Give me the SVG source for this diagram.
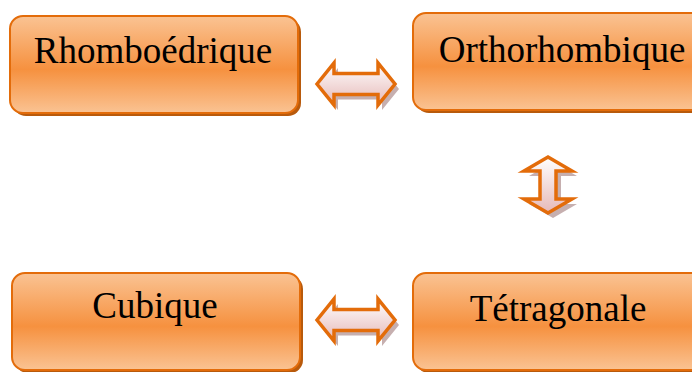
<svg xmlns="http://www.w3.org/2000/svg" width="692" height="372" viewBox="0 0 692 372">
  <defs>
    <linearGradient id="boxGrad" x1="0" y1="0" x2="0" y2="1">
      <stop offset="0" stop-color="#FAC393"/>
      <stop offset="0.55" stop-color="#F6913F"/>
      <stop offset="1" stop-color="#FAC393"/>
    </linearGradient>
    <linearGradient id="arrGradH" x1="0" y1="0" x2="0" y2="1">
      <stop offset="0" stop-color="#FFFFFF"/>
      <stop offset="1" stop-color="#E6B9B8"/>
    </linearGradient>
    <linearGradient id="arrGradV" x1="0" y1="0" x2="0" y2="1">
      <stop offset="0" stop-color="#FFFFFF"/>
      <stop offset="1" stop-color="#E6B9B8"/>
    </linearGradient>
    <path id="harrow" d="M0,0 L17,-21 L17,-10.5 L61,-10.5 L61,-21 L78,0 L61,21 L61,10.5 L17,10.5 L17,21 Z"/>
    <path id="varrow" d="M0,0 L24,14 L8,14 L8,42 L24,42 L0,56 L-24,42 L-8,42 L-8,14 L-24,14 Z"/>
  </defs>
  <style>
    .shadow { fill: #B85A0C; }
    .box { fill: url(#boxGrad); stroke: #E36C0A; stroke-width: 2; }
    .label { font-family: "Liberation Serif", "Times New Roman", serif; font-size: 37px; fill: #000000; text-anchor: middle; }
    .ashadow { fill: #A07A7A; opacity: 0.6; }
    .arrowH { fill: url(#arrGradH); stroke: #E36C0A; stroke-width: 3.5; stroke-linejoin: miter; }
    .arrowV { fill: url(#arrGradV); stroke: #E36C0A; stroke-width: 3.5; stroke-linejoin: miter; }
  </style>

  <g id="node-rhomboedrique">
    <rect class="shadow" x="13" y="19" width="288" height="97" rx="13"/>
    <rect class="box" x="10" y="16" width="288" height="97" rx="13"/>
    <text class="label" x="153" y="63">Rhomboédrique</text>
  </g>

  <g id="node-orthorhombique">
    <rect class="shadow" x="416" y="16" width="300" height="97" rx="13"/>
    <rect class="box" x="413" y="13" width="300" height="97" rx="13"/>
    <text class="label" x="562" y="62">Orthorhombique</text>
  </g>

  <g id="node-cubique">
    <rect class="shadow" x="15" y="276" width="288" height="97" rx="13"/>
    <rect class="box" x="12" y="273" width="288" height="97" rx="13"/>
    <text class="label" x="155" y="318">Cubique</text>
  </g>

  <g id="node-tetragonale">
    <rect class="shadow" x="416" y="276" width="300" height="97" rx="13"/>
    <rect class="box" x="413" y="273" width="300" height="97" rx="13"/>
    <text class="label" x="558" y="321">Tétragonale</text>
  </g>

  <g id="connectors">
    <g transform="translate(317,84)">
      <use href="#harrow" class="ashadow" transform="translate(4,5)"/>
      <use href="#harrow" class="arrowH"/>
    </g>
    <g transform="translate(548,157)">
      <use href="#varrow" class="ashadow" transform="translate(5,5)"/>
      <use href="#varrow" class="arrowV"/>
    </g>
    <g transform="translate(317,320)">
      <use href="#harrow" class="ashadow" transform="translate(4,5)"/>
      <use href="#harrow" class="arrowH"/>
    </g>
  </g>
</svg>
